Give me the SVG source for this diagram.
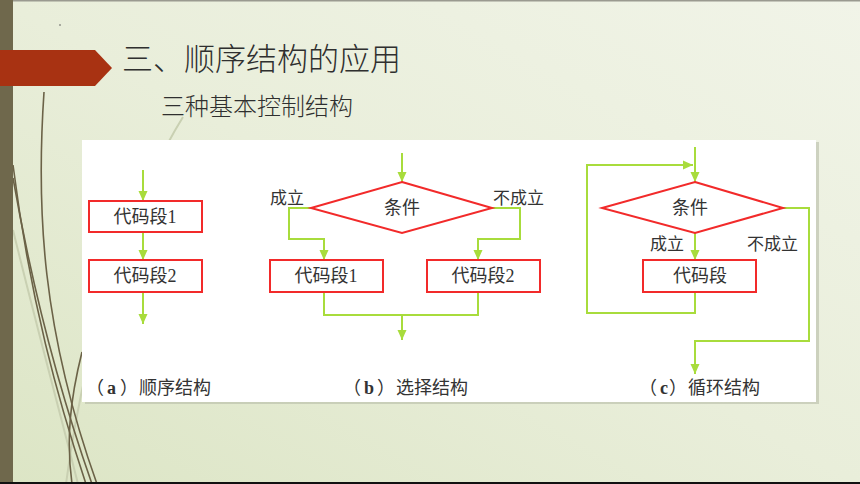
<svg xmlns="http://www.w3.org/2000/svg" width="860" height="484" viewBox="0 0 860 484">
<style>
.box{fill:#fff;stroke:#f22a2a;stroke-width:2}
.dia{fill:#fff;stroke:#f22a2a;stroke-width:2}
.ln{fill:none;stroke:#a8dc3c;stroke-width:2}
.t{font-family:"Liberation Serif","Noto Sans CJK SC",serif;font-size:18px;fill:#333;text-anchor:middle;dominant-baseline:central}
.lb{font-family:"Liberation Serif","Noto Sans CJK SC",serif;font-size:17px;fill:#333}
.cap{font-family:"Liberation Serif","Noto Sans CJK SC",serif;font-size:18px;fill:#333}
.deco{fill:none;stroke:#6b6247;stroke-width:1.6}
.decol{fill:none;stroke:#c9d0b2;stroke-width:2}
</style>
<defs>
<linearGradient id="bg" x1="1" y1="0" x2="0" y2="1">
<stop offset="0" stop-color="#f1f4e8"/>
<stop offset="0.5" stop-color="#e9eeda"/>
<stop offset="1" stop-color="#dce5c5"/>
</linearGradient>
<marker id="ah" markerUnits="userSpaceOnUse" markerWidth="10" markerHeight="10" refX="10" refY="5" orient="auto">
<path d="M0,0.5 L10,5 L0,9.5 z" fill="#a8dc3c"/>
</marker>
</defs>
<rect x="0" y="0" width="860" height="484" fill="url(#bg)"/>
<rect x="0" y="0" width="860" height="1.5" fill="#9a9a90"/>
<g id="decoration">
<path class="decol" d="M13,230 C40,340 62,420 78,484"/>
<path class="decol" d="M183,117 C150,170 90,300 66,484"/>
<path class="deco" d="M44,92 C36,210 42,330 97,484"/>
<path class="deco" d="M13,165 C30,300 58,400 86,484"/>
<path class="deco" d="M13,178 C36,310 66,410 92,484"/>
<path class="deco" d="M82,352 C70,400 66,440 72,484"/>
<circle cx="60" cy="25" r="0.8" fill="#555"/>
</g>
<rect x="0" y="0" width="13" height="484" fill="#6f684c"/>
<rect x="0" y="482" width="860" height="2" fill="#111"/>
<g id="banner">
<path d="M0,50 L95,50 L112,68 L95,86 L0,86 z" fill="#a83212"/>
</g>
<g id="title">
<text x="122" y="70" font-family="Noto Sans CJK SC, sans-serif" font-size="31" font-weight="300" fill="#2f2f2f">三、顺序结构的应用</text>
<text x="161" y="115" font-family="Noto Sans CJK SC, sans-serif" font-size="24" font-weight="300" fill="#2f2f2f">三种基本控制结构</text>
</g>
<rect x="85" y="142" width="734" height="262" fill="#b8bca8" opacity="0.6"/>
<rect x="82" y="140" width="734" height="262" fill="#fff"/>
<g id="connectors">
<path class="ln" d="M143,170 L143,201" marker-end="url(#ah)"/>
<path class="ln" d="M143,232 L143,260" marker-end="url(#ah)"/>
<path class="ln" d="M143,292 L143,324" marker-end="url(#ah)"/>
<path class="ln" d="M402,153 L402,182" marker-end="url(#ah)"/>
<path class="ln" d="M311,208 L289,208 L289,239 L324,239 L324,260" marker-end="url(#ah)"/>
<path class="ln" d="M492,208 L520,208 L520,239 L478,239 L478,260" marker-end="url(#ah)"/>
<path class="ln" d="M324,292 L324,315 L478,315 L478,292"/>
<path class="ln" d="M402,315 L402,340" marker-end="url(#ah)"/>
<path class="ln" d="M695,147 L695,182" marker-end="url(#ah)"/>
<path class="ln" d="M695,292 L695,313 L587,313 L587,165 L693,165" marker-end="url(#ah)"/>
<path class="ln" d="M695,233 L695,260" marker-end="url(#ah)"/>
<path class="ln" d="M783,208 L809,208 L809,341 L695,341 L695,374" marker-end="url(#ah)"/>
</g>
<g id="a-box1"><rect class="box" x="89" y="201" width="113" height="31"/><text class="t" x="145" y="216.5">代码段1</text></g>
<g id="a-box2"><rect class="box" x="89" y="260" width="113" height="32"/><text class="t" x="145" y="276">代码段2</text></g>
<g id="b-cond"><path class="dia" d="M402,182 L492,208 L402,233 L311,208 z"/><text class="t" x="402" y="208">条件</text></g>
<g id="b-box1"><rect class="box" x="270" y="260" width="113" height="32"/><text class="t" x="326" y="276">代码段1</text></g>
<g id="b-box2"><rect class="box" x="427" y="260" width="113" height="32"/><text class="t" x="483" y="276">代码段2</text></g>
<g id="c-cond"><path class="dia" d="M695,182 L783,208 L695,233 L602,208 z"/><text class="t" x="690" y="208">条件</text></g>
<g id="c-box"><rect class="box" x="643" y="260" width="113" height="32"/><text class="t" x="700" y="276">代码段</text></g>
<g id="labels">
<text class="lb" x="270" y="204">成立</text>
<text class="lb" x="493" y="204">不成立</text>
<text class="lb" x="650" y="250">成立</text>
<text class="lb" x="747" y="250">不成立</text>
<text class="cap" y="394"><tspan x="86">（</tspan><tspan x="107" font-weight="bold">a</tspan><tspan x="120">）</tspan><tspan x="139">顺序结构</tspan></text>
<text class="cap" y="394"><tspan x="343">（</tspan><tspan x="364" font-weight="bold">b</tspan><tspan x="377">）</tspan><tspan x="396">选择结构</tspan></text>
<text class="cap" y="394"><tspan x="639">（</tspan><tspan x="660" font-weight="bold">c</tspan><tspan x="669">）</tspan><tspan x="688">循环结构</tspan></text>
</g>
</svg>
